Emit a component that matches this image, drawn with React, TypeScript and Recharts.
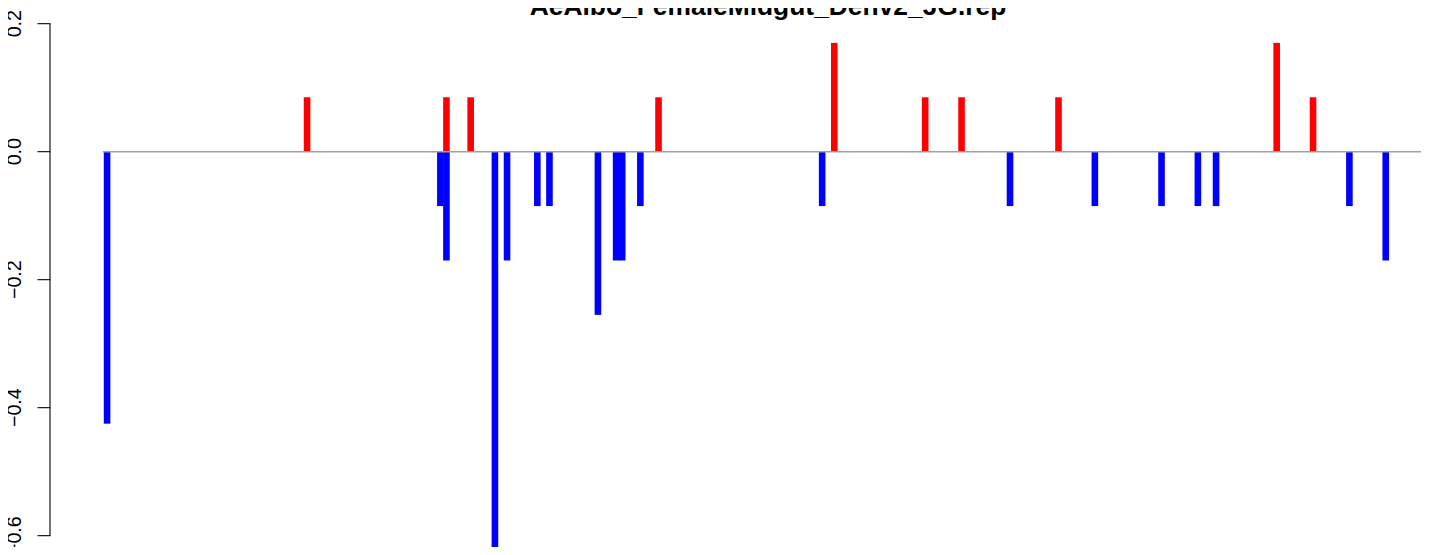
import React from 'react';
import { BarChart, Bar, XAxis, YAxis, ReferenceLine } from 'recharts';

const title = 'AeAlbo_FemaleMidgut_Denv2_JG.rep';

// slot index along the sequence, bar heights
const redPos = [33, 56, 60, 91, 120, 135, 141, 157, 193, 199];
const redVal = [0.085, 0.085, 0.085, 0.085, 0.17, 0.085, 0.085, 0.085, 0.17, 0.085];

const bluePos = [0, 55, 56, 64, 66, 71, 73, 81, 84, 85, 88, 118, 149, 163, 174, 180, 183, 205, 211];
const blueVal = [-0.425, -0.085, -0.17, -0.68, -0.17, -0.085, -0.085, -0.255, -0.17, -0.17, -0.085, -0.085, -0.085, -0.085, -0.085, -0.085, -0.085, -0.085, -0.17];

const yTicks = [0.2, 0, -0.2, -0.4, -0.6];
const xDomain = [-9.34, 227.62];
const yDomain = [-0.6302, 0.237];

const buildRows = () => {
    const rows: { [k: number]: { pos: number, up: number, down: number } } = {};
    redPos.forEach((p, i) => {
        if (!rows[p]) rows[p] = { pos: p, up: 0, down: 0 };
        rows[p].up = redVal[i];
    });
    bluePos.forEach((p, i) => {
        if (!rows[p]) rows[p] = { pos: p, up: 0, down: 0 };
        rows[p].down = blueVal[i];
    });
    return Object.values(rows).sort((a, b) => a.pos - b.pos);
};

const fmt = (v: number) => (v < 0 ? '\u2212' + Math.abs(v).toFixed(1) : v.toFixed(1));

const YTick = (props: any) => {
    const { y, payload } = props;
    return (
        <g>
            <line x1={37.5} x2={50.5} y1={y} y2={y} stroke="#000" strokeWidth={1.1} />
            <text
                x={21}
                y={y}
                transform={`rotate(-90 21 ${y})`}
                textAnchor="middle"
                fontSize={19.7}
                fontFamily="'Liberation Sans', Arial, sans-serif"
                fill="#000"
            >
                {fmt(payload.value)}
            </text>
        </g>
    );
};

// R draws each bar a touch wider than recharts' band allows
const WideBar = (props: any) => {
    const { x, y, width, height, fill } = props;
    if (!height) return null;
    const top = height < 0 ? y + height : y;
    const cx = x + width / 2;
    return <rect x={cx - 3.3} y={top} width={6.6} height={Math.abs(height)} fill={fill} />;
};

export default function App() {
    const data = buildRows();
    return (
        <div style={{ margin: -8, position: 'relative', width: 1429, height: 555, overflow: 'hidden', background: '#fff' }}>
            <BarChart
                width={1486}
                height={555}
                data={data}
                stackOffset="sign"
                barCategoryGap={0}
                barGap={0}
                margin={{ top: 0, right: 0, bottom: 0, left: 0 }}
            >
                <XAxis dataKey="pos" type="number" domain={xDomain} allowDataOverflow hide />
                <YAxis
                    type="number"
                    domain={yDomain}
                    ticks={yTicks}
                    allowDataOverflow
                    width={50}
                    axisLine={false}
                    tickLine={false}
                    tick={<YTick />}
                    interval={0}
                />
                <ReferenceLine
                    segment={[{ x: -0.64, y: 0 }, { x: 227.62, y: 0 }]}
                    stroke="#a0a0a0"
                    strokeWidth={1.4}
                    ifOverflow="visible"
                />
                <ReferenceLine
                    segment={[{ x: -9.34, y: 0.2 }, { x: -9.34, y: -0.6 }]}
                    stroke="#000"
                    strokeWidth={1.1}
                    ifOverflow="visible"
                />
                <Bar dataKey="up" stackId="a" fill="#ff0000" barSize={5} shape={<WideBar />} isAnimationActive={false} />
                <Bar dataKey="down" stackId="a" fill="#0000ff" barSize={5} shape={<WideBar />} isAnimationActive={false} />
            </BarChart>
            <div
                style={{
                    position: 'absolute',
                    left: 0,
                    width: 1536,
                    top: -7,
                    textAlign: 'center',
                    fontFamily: "'Liberation Sans', Arial, sans-serif",
                    fontWeight: 'bold',
                    fontSize: 26.4,
                    lineHeight: '26.4px',
                    whiteSpace: 'nowrap',
                }}
            >
                {title}
            </div>
        </div>
    );
}
